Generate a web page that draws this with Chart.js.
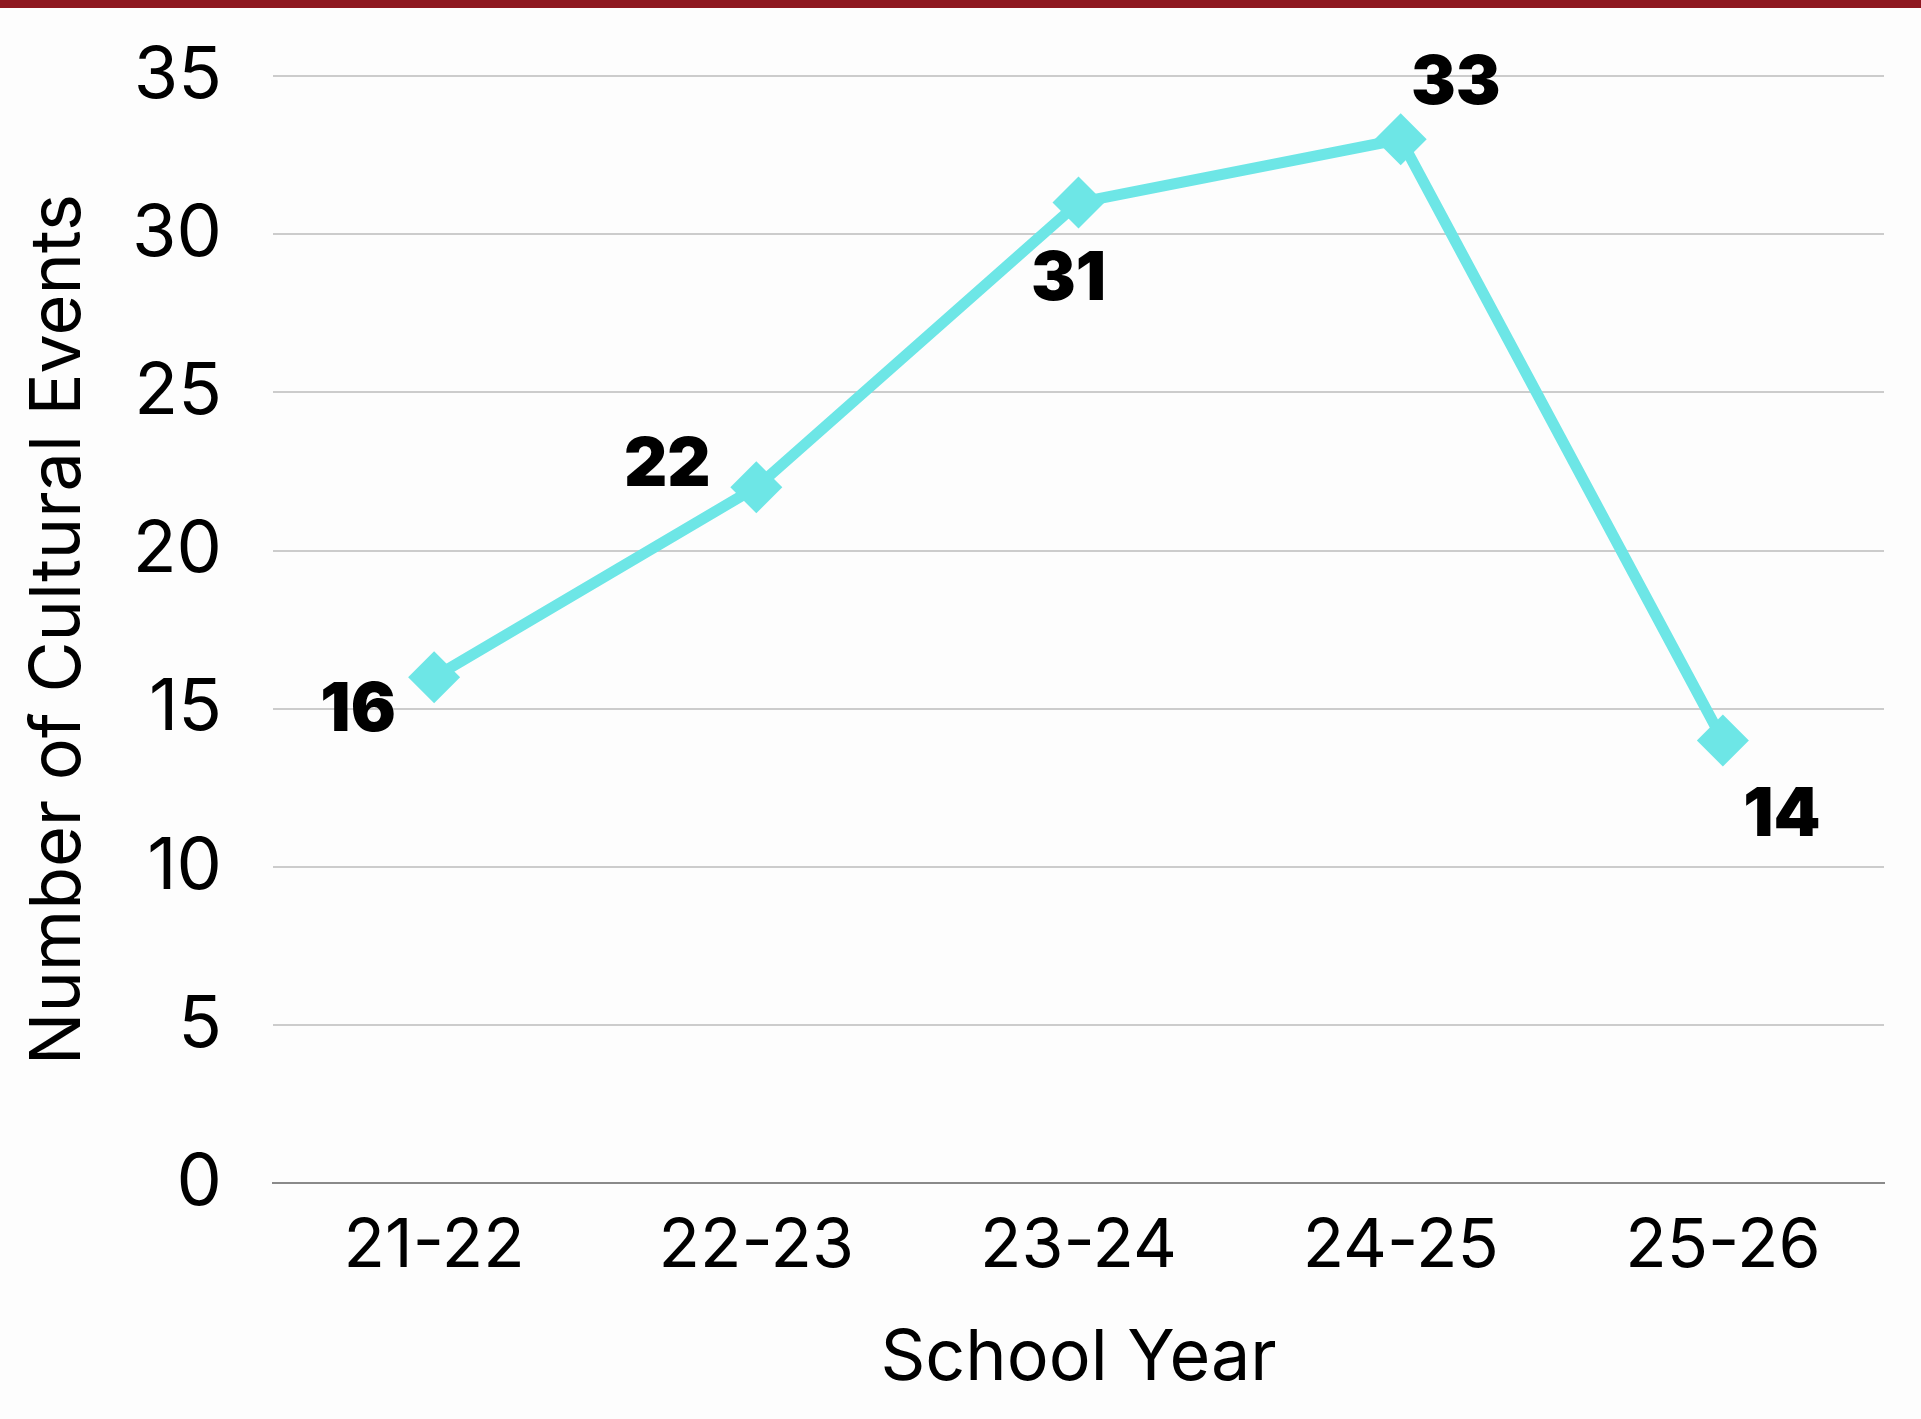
<!DOCTYPE html>
<html>
<head>
<meta charset="utf-8">
<script src="https://cdn.jsdelivr.net/npm/chart.js@4/dist/chart.umd.min.js"></script>
<style>
  html, body { margin: 0; padding: 0; background: #fdfdfd; }
  #bar { height: 8px; background: #8e1820; }
  #wrap { width: 1921px; height: 1411px; }
</style>
</head>
<body>
<div id="bar"></div>
<div id="wrap"><canvas id="grafico" width="1921" height="1411"></canvas></div>
<script>
const years = ["21-22", "22-23", "23-24", "24-25", "25-26"];
const culturalEvents = [16, 22, 31, 33, 14];
const yTicks = [0, 5, 10, 15, 20, 25, 30, 35];

// desplazamiento de cada etiqueta respecto a su punto
const labelOffsets = [[-76, 34], [-89, -21], [-10, 77], [55, -55], [59, 75]];

const valueLabels = {
    id: "valueLabels",
    afterDatasetsDraw(chart) {
        const ctx = chart.ctx;
        const meta = chart.getDatasetMeta(0);
        ctx.save();
        ctx.font = "900 67px Inter";
        ctx.fillStyle = "#000";
        ctx.textAlign = "center";
        ctx.textBaseline = "middle";
        meta.data.forEach((pt, i) => {
            const off = labelOffsets[i];
            ctx.fillText(String(culturalEvents[i]), pt.x + off[0], pt.y + off[1]);
        });
        ctx.restore();
    }
};

const ctx = document.getElementById("grafico").getContext("2d");
new Chart(ctx, {
    type: "line",
    data: {
        labels: years,
        datasets: [{
            label: "Cultural Events",
            data: culturalEvents,
            borderColor: "#6de6e6",
            backgroundColor: "#6de6e6",
            borderWidth: 11,
            pointStyle: "rectRot",
            pointRadius: 26,
            pointBorderWidth: 0,
            tension: 0
        }]
    },
    options: {
        responsive: false,
        animation: false,
        layout: { padding: { top: 68, right: 37, bottom: 18, left: 12 } },
        plugins: {
            legend: { display: false },
            tooltip: { enabled: false }
        },
        scales: {
            x: {
                offset: true,
                grid: { display: false, drawTicks: false },
                border: { color: "#8a8a8a", width: 2 },
                ticks: {
                    color: "#000",
                    font: { family: "Inter", size: 68 },
                    padding: 22,
                    maxRotation: 0
                },
                title: {
                    display: true,
                    text: "School Year",
                    color: "#000",
                    font: { family: "Inter", size: 70 },
                    padding: { top: 8, bottom: 0 }
                }
            },
            y: {
                min: 0,
                max: 35,
                afterBuildTicks(axis) {
                    axis.ticks = yTicks.map(v => ({ value: v }));
                },
                afterFit(axis) {
                    axis.width = 261;
                    axis.paddingTop = 0;
                    axis.paddingBottom = 0;
                },
                grid: { color: "#cccccc", lineWidth: 2, drawTicks: false },
                border: { display: false },
                ticks: {
                    color: "#000",
                    font: { family: "Inter", size: 72 },
                    padding: 51
                },
                title: {
                    display: true,
                    text: "Number of Cultural Events",
                    color: "#000",
                    font: { family: "Inter", size: 70 },
                    padding: { top: 5, bottom: 0 }
                }
            }
        }
    },
    plugins: [valueLabels]
});
</script>
</body>
</html>
